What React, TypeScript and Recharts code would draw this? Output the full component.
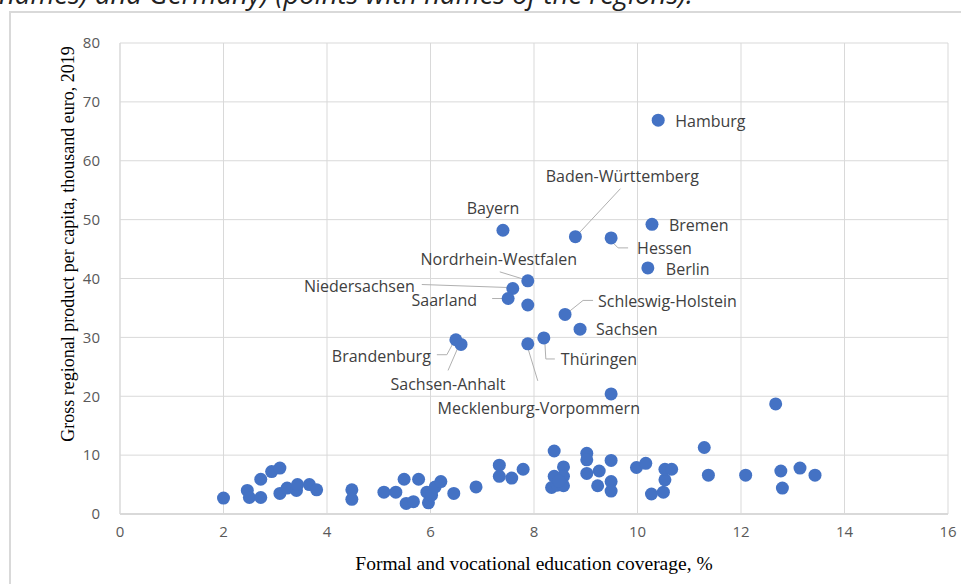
import React from "react";
import { ScatterChart, Scatter, XAxis, YAxis, CartesianGrid } from "recharts";

// axis ticks
const xTicks = [0, 2, 4, 6, 8, 10, 12, 14, 16];
const yTicks = [0, 10, 20, 30, 40, 50, 60, 70, 80];

// regions without names (other country)
const otherCoverage = [
  2.0, 2.46, 2.5, 2.72, 2.72, 2.93, 3.09, 3.09, 3.23, 3.41, 3.43, 3.66, 3.8, 4.48, 4.48, 5.1, 5.33,
  5.49, 5.53, 5.67, 5.77, 5.93, 5.96, 6.02, 6.09, 6.2, 6.45, 6.88, 7.33, 7.33, 7.57, 7.79, 8.39,
  8.57, 8.39, 8.57, 8.34, 8.45, 8.57, 8.48, 9.02, 9.02, 9.02, 9.26, 9.23, 9.49, 9.49, 9.49, 9.98,
  10.16, 10.27, 10.5, 10.53, 10.53, 10.66, 11.29, 11.37, 12.09, 12.77, 12.8, 13.14, 13.43, 12.67,
  9.49, 7.88,
];
const otherGrp = [
  2.7, 4.0, 2.8, 2.8, 5.9, 7.2, 7.8, 3.5, 4.4, 4.0, 5.0, 5.0, 4.1, 4.1, 2.5, 3.7, 3.7, 5.9, 1.8,
  2.1, 5.9, 3.7, 1.9, 3.2, 4.6, 5.5, 3.5, 4.6, 8.3, 6.4, 6.1, 7.6, 10.7, 8.0, 6.4, 6.4, 4.5, 4.9,
  4.8, 5.6, 10.3, 9.2, 6.9, 7.3, 4.8, 9.1, 5.5, 3.9, 7.9, 8.6, 3.4, 3.7, 5.8, 7.6, 7.6, 11.3, 6.6,
  6.6, 7.3, 4.4, 7.8, 6.6, 18.7, 20.4, 35.5,
];

// German regions (labelled)
const regionNames = [
  "Hamburg", "Baden-Württemberg", "Bayern", "Bremen", "Hessen", "Berlin", "Nordrhein-Westfalen",
  "Niedersachsen", "Saarland", "Schleswig-Holstein", "Sachsen", "Brandenburg", "Sachsen-Anhalt",
  "Thüringen", "Mecklenburg-Vorpommern",
];
const regionCoverage = [10.4, 8.8, 7.4, 10.28, 9.49, 10.2, 7.88, 7.59, 7.5, 8.6, 8.89, 6.49, 6.59, 8.19, 7.88];
const regionGrp = [66.9, 47.1, 48.2, 49.2, 46.9, 41.8, 39.6, 38.3, 36.6, 33.9, 31.4, 29.6, 28.8, 29.9, 28.9];

// label placement around each point (px) and leader lines
const labelLayout = {
  Hamburg: { dx: 17, dy: 1, anchor: "start", line: null },
  "Baden-Württemberg": { dx: 47, dy: -61, anchor: "middle", line: [[4, -4], [45, -48]] },
  Bayern: { dx: -10, dy: -22, anchor: "middle", line: null },
  Bremen: { dx: 17, dy: 1, anchor: "start", line: null },
  Hessen: { dx: 26, dy: 10, anchor: "start", line: [[2, 5], [7, 10], [17, 10]] },
  Berlin: { dx: 18, dy: 1, anchor: "start", line: null },
  "Nordrhein-Westfalen": { dx: -29, dy: -22, anchor: "middle", line: [[-28, -9], [-2, -1]] },
  Niedersachsen: { dx: -98, dy: -3, anchor: "end", line: [[-91, -4], [-5, -1]] },
  Saarland: { dx: -31, dy: 1, anchor: "end", line: [[-16, 0], [-5, 0]] },
  "Schleswig-Holstein": { dx: 33, dy: -13, anchor: "start", line: [[3, -2], [18, -14], [28, -14]] },
  Sachsen: { dx: 16, dy: 0, anchor: "start", line: null },
  Brandenburg: { dx: -25, dy: 16, anchor: "end", line: [[-19, 15], [-9, 15], [-2, 2]] },
  "Sachsen-Anhalt": { dx: -13, dy: 40, anchor: "middle", line: [[-13, 26], [-3, 3]] },
  Thüringen: { dx: 17, dy: 21, anchor: "start", line: [[1, 4], [2, 21], [11, 21]] },
  "Mecklenburg-Vorpommern": { dx: 11, dy: 64, anchor: "middle", line: [[0, 4], [10, 37]] },
};

const otherData = otherCoverage.map((x, i) => ({ x, y: otherGrp[i] }));
const regionData = regionNames.map((name, i) => ({ name, x: regionCoverage[i], y: regionGrp[i] }));

const DOT = "#4472C4";
const GRID = "#d9d9d9";
const TICK = { fill: "#595959", fontSize: 15, fontFamily: "Open Sans" };

const Dot = props => {
  const { cx, cy } = props;
  return <circle cx={cx} cy={cy} r={6.5} fill={DOT} />;
};

const RegionDot = props => {
  const { cx, cy, payload } = props;
  const lay = labelLayout[payload.name];
  return (
    <g>
      {lay.line && (
        <polyline
          points={lay.line.map(p => `${cx + p[0]},${cy + p[1]}`).join(" ")}
          fill="none"
          stroke="#b0b0b0"
          strokeWidth={1}
        />
      )}
      <circle cx={cx} cy={cy} r={6.5} fill={DOT} />
      <text
        x={cx + lay.dx}
        y={cy + lay.dy}
        dominantBaseline="central"
        textAnchor={lay.anchor}
        fill="#404040"
        fontSize={16}
        fontFamily="Open Sans"
      >
        {payload.name}
      </text>
    </g>
  );
};

export default function App() {
  return (
    <div style={{ position: "absolute", left: 0, top: 0, width: 961, height: 584, overflow: "hidden", background: "#fff" }}>
      <div
        style={{
          position: "absolute",
          left: -1,
          top: -25,
          whiteSpace: "nowrap",
          fontStyle: "italic",
          fontFamily: "Open Sans",
          fontSize: 27.5,
          lineHeight: "38px",
          color: "#222",
        }}
      >
        names) and Germany) (points with names of the regions).
      </div>
      <div style={{ position: "absolute", left: 9, top: 11, width: 1000, height: 620, border: "2px solid #d9d9d9" }} />
      <div style={{ position: "absolute", left: 0, top: 0 }}>
        <ScatterChart width={961} height={584} margin={{ top: 43, right: 13, bottom: 40, left: 60 }}>
          <CartesianGrid stroke={GRID} strokeWidth={1} />
          <XAxis
            type="number"
            dataKey="x"
            domain={[0, 16]}
            ticks={xTicks}
            tickLine={false}
            axisLine={{ stroke: GRID, strokeWidth: 2 }}
            tick={TICK}
            tickMargin={6}
            height={30}
          />
          <YAxis
            type="number"
            dataKey="y"
            domain={[0, 80]}
            ticks={yTicks}
            tickLine={false}
            axisLine={{ stroke: GRID, strokeWidth: 1 }}
            tick={TICK}
            tickMargin={14}
            width={60}
          />
          <Scatter data={otherData} shape={<Dot />} isAnimationActive={false} />
          <Scatter data={regionData} shape={<RegionDot />} isAnimationActive={false} />
        </ScatterChart>
      </div>
      <div
        style={{
          position: "absolute",
          left: 534,
          top: 564,
          transform: "translate(-50%, -50%)",
          whiteSpace: "nowrap",
          fontFamily: "Liberation Serif",
          fontSize: 19.5,
          color: "#000",
        }}
      >
        Formal and vocational education coverage, %
      </div>
      <div
        style={{
          position: "absolute",
          left: 68,
          top: 244,
          transform: "translate(-50%, -50%) rotate(-90deg)",
          whiteSpace: "nowrap",
          fontFamily: "Liberation Serif",
          fontSize: 18,
          color: "#000",
        }}
      >
        Gross regional product per capita, thousand euro, 2019
      </div>
    </div>
  );
}
